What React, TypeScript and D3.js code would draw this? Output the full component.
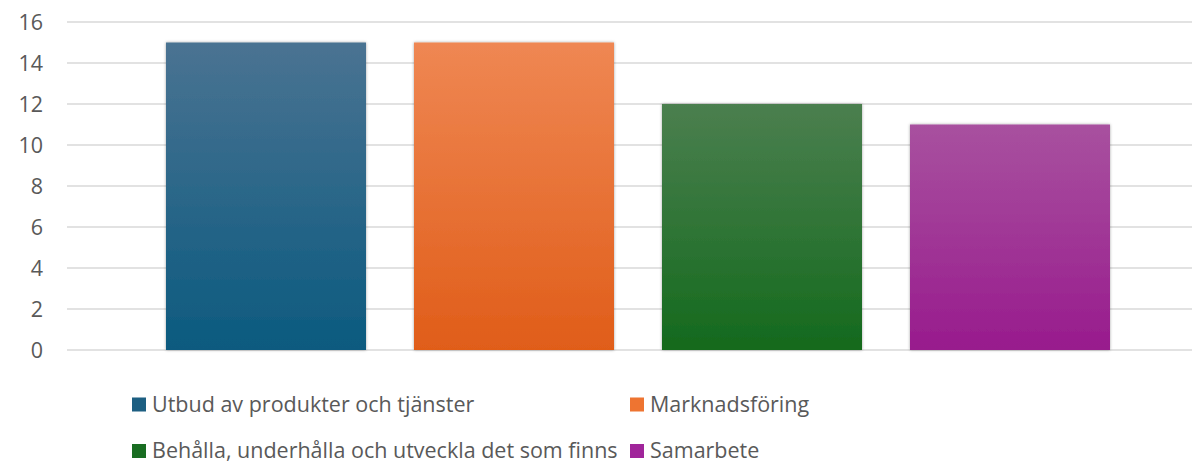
import React, { useEffect, useRef } from 'react'
import * as d3 from 'd3'

const categories = [
  'Utbud av produkter och tjänster',
  'Marknadsföring',
  'Behålla, underhålla och utveckla det som finns',
  'Samarbete',
]
const values = [15, 15, 12, 11]
const yTicks = [0, 2, 4, 6, 8, 10, 12, 14, 16]
const topColors = ['#4a7392', '#ef8753', '#4b7f4f', '#a8519f']
const bottomColors = ['#0b5a7f', '#e05d19', '#146a1d', '#981b8d']
const legendColors = ['#1d5f82', '#ee7431', '#196d22', '#a0259a']

const App = () => {
  const svgRef = useRef<SVGSVGElement>(null)

  useEffect(() => {
    const width = 1192
    const height = 463
    const svg = d3.select(svgRef.current)
    svg.selectAll('*').remove()
    svg.attr('width', width).attr('height', height)

    const y = d3.scaleLinear().domain([0, 16]).range([350, 22])
    const x = d3.scaleBand<string>()
      .domain(categories)
      .range([142, 1134])
      .paddingInner(48 / 248)
      .paddingOuter(24 / 248)

    const defs = svg.append('defs')
    categories.forEach((c, i) => {
      const g = defs.append('linearGradient')
        .attr('id', 'grad' + i)
        .attr('x1', 0).attr('y1', 0).attr('x2', 0).attr('y2', 1)
      g.append('stop').attr('offset', '0%').attr('stop-color', topColors[i])
      g.append('stop').attr('offset', '100%').attr('stop-color', bottomColors[i])
    })
    const f = defs.append('filter').attr('id', 'shadow')
      .attr('x', '-5%').attr('y', '-5%').attr('width', '110%').attr('height', '110%')
    f.append('feDropShadow').attr('dx', 0).attr('dy', 0).attr('stdDeviation', 1.5)
      .attr('flood-color', '#000').attr('flood-opacity', 0.35)

    // gridlines
    svg.append('g')
      .selectAll('line')
      .data(yTicks)
      .join('line')
      .attr('x1', 67)
      .attr('x2', width)
      .attr('y1', d => y(d))
      .attr('y2', d => y(d))
      .attr('stroke', '#d9d9d9')
      .attr('stroke-width', 1.3)

    // tick labels
    svg.append('g')
      .selectAll('text')
      .data(yTicks)
      .join('text')
      .attr('x', 43)
      .attr('y', d => y(d))
      .attr('dy', '0.36em')
      .attr('text-anchor', 'end')
      .attr('font-family', '"Open Sans", sans-serif')
      .attr('font-size', 21.5)
      .attr('fill', '#595959')
      .text(d => d)

    // bars
    svg.append('g')
      .selectAll('rect')
      .data(values)
      .join('rect')
      .attr('x', (d, i) => x(categories[i]) as number)
      .attr('width', x.bandwidth())
      .attr('y', d => y(d))
      .attr('height', d => y(0) - y(d))
      .attr('fill', (d, i) => `url(#grad${i})`)
      .attr('filter', 'url(#shadow)')

    // legend (x, baseline)
    const legendPos = [
      [132, 411.5],
      [630, 411.5],
      [132, 458],
      [630, 458],
    ]
    const lg = svg.append('g')
    categories.forEach((c, i) => {
      const [lx, ly] = legendPos[i]
      lg.append('rect')
        .attr('x', lx).attr('y', ly - 14)
        .attr('width', 14).attr('height', 14)
        .attr('fill', legendColors[i])
      lg.append('text')
        .attr('x', lx + 20).attr('y', ly)
        .attr('font-family', '"Open Sans", sans-serif')
        .attr('font-size', 21.5)
        .attr('fill', '#595959')
        .text(c)
    })
  }, [])

  return (
    <div style={{ position: 'absolute', left: 0, top: 0 }}>
      <svg ref={svgRef} style={{ display: 'block', background: '#fff' }}></svg>
    </div>
  )
}

export default App
